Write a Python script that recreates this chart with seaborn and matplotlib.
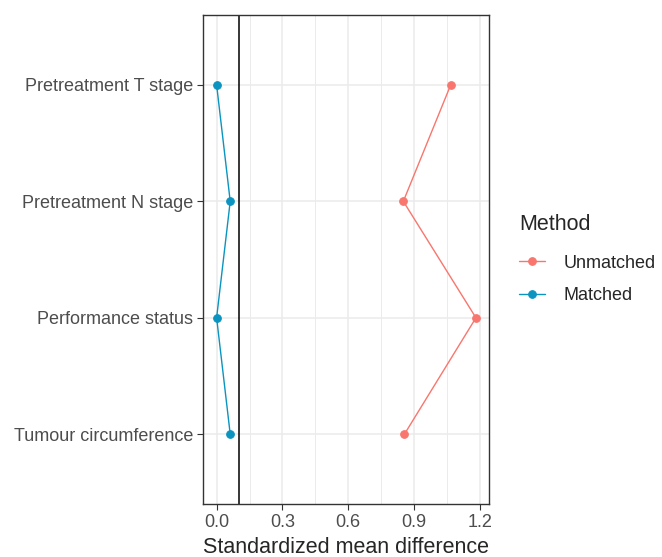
import pandas as pd
import matplotlib.pyplot as plt
import seaborn as sns

# covariates, top to bottom
covariates = ['Pretreatment T stage', 'Pretreatment N stage',
              'Performance status', 'Tumour circumference']
smd_unmatched = [1.067, 0.851, 1.182, 0.856]
smd_matched = [0.0, 0.062, 0.0, 0.062]
methods = ['Unmatched', 'Matched']
colors = ['#F8766D', '#0A94BF']
x_ticks = [0.0, 0.3, 0.6, 0.9, 1.2]
x_minor = [0.15, 0.45, 0.75, 1.05]
threshold = 0.1

df = pd.DataFrame({
    'covariate': covariates * 2,
    'smd': smd_unmatched + smd_matched,
    'Method': ['Unmatched'] * 4 + ['Matched'] * 4,
})

sns.set_theme(style='white')
plt.rcParams['font.family'] = ['Liberation Sans', 'DejaVu Sans']

fig = plt.figure(figsize=(6.62, 5.57), dpi=100)
ax = fig.add_axes([0.307, 0.095, 0.432, 0.878])

sns.pointplot(data=df, x='smd', y='covariate', hue='Method', order=covariates,
              hue_order=methods, palette=colors, errorbar=None, markers='o',
              linestyles='-', markersize=5.5, linewidth=1.0, ax=ax)

ax.axvline(threshold, color='black', lw=1.1, zorder=1)

ax.set_xlim(-0.061, 1.2425)
ax.set_ylim(3.6, -0.6)
ax.set_xticks(x_ticks)
ax.set_xticklabels([f'{t:.1f}' for t in x_ticks])
ax.set_xticks(x_minor, minor=True)

ax.set_axisbelow(True)
ax.grid(True, which='major', color='#EBEBEB', lw=1.1)
ax.grid(True, which='minor', axis='x', color='#EBEBEB', lw=0.7)

ax.tick_params(axis='both', which='major', length=4.3, width=0.8, color='#333333',
               labelsize=13, labelcolor='#4D4D4D', pad=3, left=True, bottom=True)
ax.tick_params(axis='x', which='minor', length=0)
for s in ax.spines.values():
    s.set_color('#333333')
    s.set_linewidth(1.0)

ax.set_ylabel('')
ax.set_xlabel('Standardized mean difference', fontsize=15.5, labelpad=4)

handles, labels = ax.get_legend_handles_labels()
ax.get_legend().remove()
fig.legend(handles, labels, title='Method', loc='center left',
           bbox_to_anchor=(0.784, 0.535), frameon=False, fontsize=13,
           title_fontsize=15.5, handlelength=1.45, handletextpad=1.0,
           labelspacing=0.85, borderpad=0, borderaxespad=0,
           alignment='left')
leg = fig.legends[0]
leg._legend_box.sep = 14

fig.savefig('out.png', dpi=100)
